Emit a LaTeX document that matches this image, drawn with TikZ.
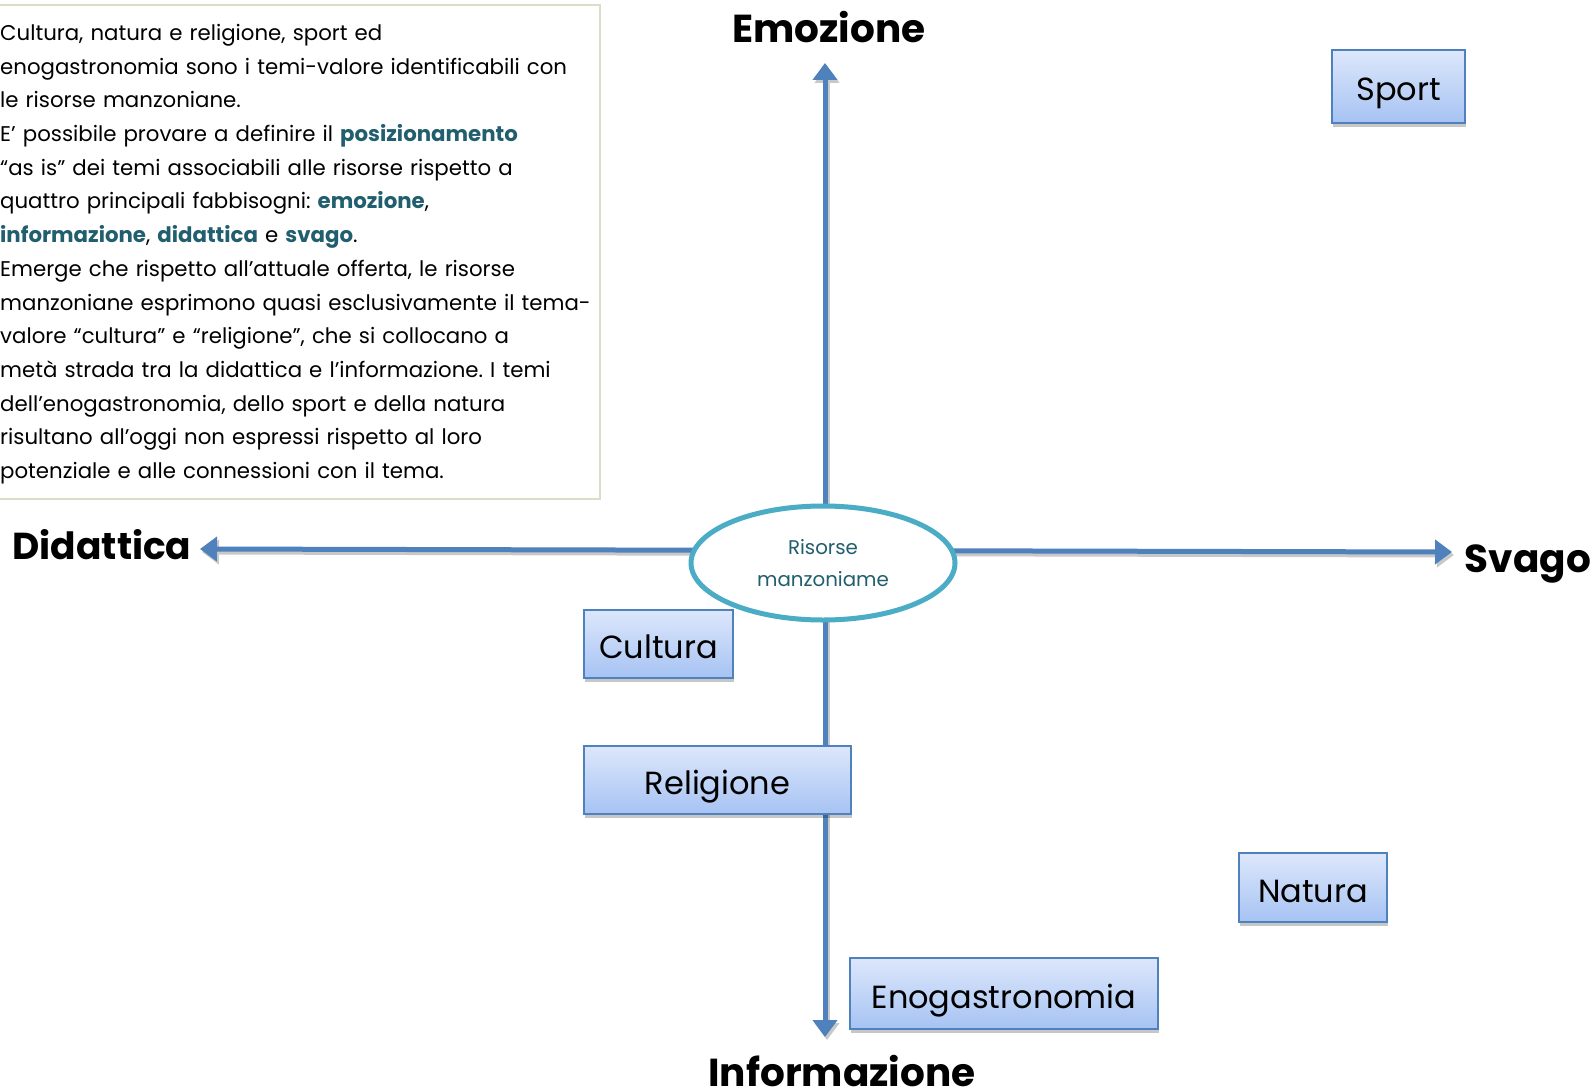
\documentclass[tikz,border=0pt]{standalone}
\usepackage{fontspec}
\setmainfont{Poppins}
\usetikzlibrary{arrows.meta,shapes.geometric,shadows}
\definecolor{axisblue}{HTML}{4F81BD}
\definecolor{ringblue}{HTML}{4BACC6}
\definecolor{tealtext}{HTML}{215E6E}
\definecolor{boxtop}{HTML}{DDE7FB}
\definecolor{boxbot}{HTML}{A6C3F3}
\definecolor{framecol}{HTML}{DDDCC8}
\definecolor{shadowgray}{HTML}{C8C8C8}
\newcommand{\hl}[1]{\textcolor{tealtext}{\bfseries #1}}
\frenchspacing
\begin{document}
\begin{tikzpicture}[x=1pt,y=-1pt,
  axisline/.style={line width=5pt, draw=axisblue, {Triangle[width=24pt,length=17pt]}-{Triangle[width=24pt,length=17pt]}},
  axisshadow/.style={line width=5pt, draw=shadowgray, {Triangle[width=24pt,length=17pt]}-{Triangle[width=24pt,length=17pt]}},
  themebox/.style={draw=axisblue, line width=1.6pt, top color=boxtop, bottom color=boxbot,
    inner sep=0pt, text height=29pt, text depth=0pt, font=\fontsize{32}{38}\selectfont,
    drop shadow={shadow xshift=1pt, shadow yshift=-4pt, fill=black, opacity=0.22}},
  axislabel/.style={font=\fontsize{39}{44}\selectfont\bfseries, inner sep=0pt, anchor=base},
]
\useasboundingbox (0,0) rectangle (1594,1091);
\fill[white] (0,0) rectangle (1594,1091);

% description panel
\draw[framecol, line width=2pt, fill=white] (-5,5) rectangle (600,499);
\node[anchor=north west, inner sep=0pt, text width=640pt, align=left,
      font=\fontsize{21.3}{33.7}\selectfont] (desc) at (0,24) {%
Cultura, natura e religione, sport ed\\
enogastronomia sono i temi-valore identificabili con\\
le risorse manzoniane.\\
E’ possibile provare a definire il \hl{posizionamento}\\
“as is” dei temi associabili alle risorse rispetto a\\
quattro principali fabbisogni: \hl{emozione},\\
\hl{informazione}, \hl{didattica} e \hl{svago}.\\
Emerge che rispetto all’attuale offerta, le risorse\\
manzoniane esprimono quasi esclusivamente il tema-\\
valore “cultura” e “religione”, che si collocano a\\
metà strada tra la didattica e l’informazione. I temi\\
dell’enogastronomia, dello sport e della natura\\
risultano all’oggi non espressi rispetto al loro\\
potenziale e alle connessioni con il tema.};

% axis end points
\coordinate (topTip) at (825,63);
\coordinate (botTip) at (825,1037);
\coordinate (leftTip) at (200,549);
\coordinate (rightTip) at (1452,552);

% axes with their shadows
\draw[axisshadow] ([shift={(2,3)}]leftTip) -- ([shift={(2,3)}]rightTip);
\draw[axisshadow] ([shift={(2,3)}]topTip) -- ([shift={(2,3)}]botTip);
\draw[axisline] (leftTip) -- (rightTip);
\draw[axisline] (topTip) -- (botTip);

% centre
\node[ellipse, draw=ringblue, line width=5pt, fill=white, minimum width=264pt, minimum height=114pt,
      inner sep=0pt, align=center, text=tealtext, font=\fontsize{19.8}{32}\selectfont] (ell) at (823,563)
      {Risorse\\manzoniame};

% axis labels
\node[axislabel] (emo) at (829,43) {Emozione};
\node[axislabel, font=\fontsize{37.5}{44}\selectfont\bfseries] (did) at (102,559) {Didattica};
\node[axislabel] (sva) at (1528,572) {Svago};
\node[axislabel] (inf) at (842,1086) {Informazione};

% themes
\node[themebox, minimum width=133pt, minimum height=73pt] (sport) at (1398.5,86.5) {Sport};
\node[themebox, minimum width=149pt, minimum height=68pt] (cult) at (658.5,644) {Cultura};
\node[themebox, minimum width=267pt, minimum height=68pt] (rel) at (717.5,780) {Religione};
\node[themebox, minimum width=148pt, minimum height=69pt] (nat) at (1313,887.5) {Natura};
\node[themebox, minimum width=308pt, minimum height=71pt] (eno) at (1004,993.5) {Enogastronomia};
\end{tikzpicture}
\end{document}
